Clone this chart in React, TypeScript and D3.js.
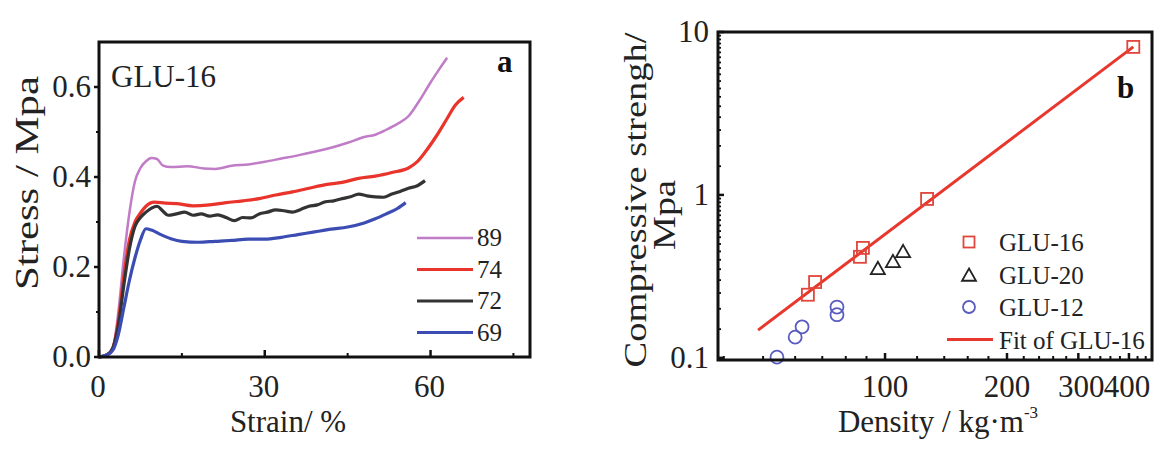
import React from "react";
import * as d3 from "d3";

const serif = "'Liberation Serif', 'Times New Roman', Times, serif";

// ---------- Panel a data: stress-strain curves (strain %, stress MPa) ----------
const curve89: [number, number][] = [
  [0, 0], [1.5, 0.005], [2.5, 0.02], [3.5, 0.1], [4.5, 0.22], [5.5, 0.32], [6.5, 0.39], [7.5, 0.42],
  [8.5, 0.435], [9.5, 0.442], [10.5, 0.44], [11.5, 0.426], [13, 0.422], [16, 0.424], [19, 0.419],
  [21, 0.418], [24, 0.425], [27, 0.428], [30, 0.434], [33, 0.441], [36, 0.448], [39, 0.456],
  [42, 0.465], [45, 0.476], [48, 0.489], [50, 0.494], [52, 0.505], [54, 0.518], [56, 0.535],
  [58, 0.57], [60, 0.61], [61.5, 0.638], [63, 0.665],
];
const curve74: [number, number][] = [
  [0, 0], [1.5, 0.005], [2.5, 0.02], [3.5, 0.08], [4.5, 0.18], [5.5, 0.26], [6.5, 0.3], [7.5, 0.32],
  [8.5, 0.335], [10, 0.344], [12, 0.342], [14, 0.341], [17, 0.336], [20, 0.338], [23, 0.343],
  [26, 0.347], [29, 0.352], [32, 0.36], [35, 0.367], [38, 0.375], [41, 0.383], [44, 0.388],
  [47, 0.397], [50, 0.402], [53, 0.41], [56, 0.42], [57.5, 0.433], [59, 0.455], [61, 0.49],
  [63, 0.53], [64.5, 0.56], [66, 0.577],
];
const curve72: [number, number][] = [
  [0, 0], [1.5, 0.005], [2.5, 0.02], [3.5, 0.07], [4.5, 0.16], [5.5, 0.24], [6.5, 0.29], [7.5, 0.31],
  [8.5, 0.322], [9.5, 0.331], [10.5, 0.335], [11.5, 0.325], [12.5, 0.315], [14, 0.318], [15.5, 0.322],
  [17, 0.315], [18.5, 0.318], [20, 0.313], [21.5, 0.316], [23, 0.31], [24.5, 0.303], [26, 0.31],
  [27.5, 0.309], [29, 0.318], [30.5, 0.322], [32, 0.327], [33.5, 0.325], [35, 0.322], [36.5, 0.328],
  [38, 0.335], [39.5, 0.338], [41, 0.345], [42.5, 0.347], [44, 0.352], [45.5, 0.356], [47, 0.362],
  [48.5, 0.358], [50, 0.356], [51.5, 0.355], [53, 0.362], [54.5, 0.368], [56, 0.375], [57.5, 0.38],
  [59, 0.392],
];
const curve69: [number, number][] = [
  [0, 0], [1.5, 0.005], [2.5, 0.015], [3.5, 0.05], [4.5, 0.11], [5.5, 0.17], [6.5, 0.22], [7.5, 0.26],
  [8.5, 0.285], [9.5, 0.282], [11, 0.273], [13, 0.263], [15, 0.257], [18, 0.255], [21, 0.257],
  [24, 0.259], [27, 0.262], [30, 0.262], [33, 0.266], [36, 0.272], [39, 0.278], [42, 0.284],
  [45, 0.289], [48, 0.298], [50, 0.307], [52, 0.318], [54, 0.33], [55.5, 0.343],
];
const legendA = ["89", "74", "72", "69"];
const colorsA = ["#c07cc6", "#e8342b", "#333333", "#3b4cb3"];
const widthsA = [2.5, 3.2, 3.2, 3.2];
const xTicksA = [0, 30, 60];
const xMinorA = [15, 45, 75];
const yTicksA = [0, 0.2, 0.4, 0.6];
const yMinorA = [0.1, 0.3, 0.5];

// ---------- Panel b data: density (kg/m3) vs compressive strength (MPa) ----------
const densityGLU16 = [64.5, 67.2, 86.7, 88.2, 127, 410];
const strengthGLU16 = [0.244, 0.292, 0.417, 0.473, 0.945, 8.1];
const densityGLU20 = [96, 104.6, 110.8];
const strengthGLU20 = [0.352, 0.388, 0.447];
const densityGLU12 = [54.1, 60, 62.4, 76.1, 76.1];
const strengthGLU12 = [0.101, 0.134, 0.155, 0.184, 0.205];
const fitLog10Intercept = -3.9955;
const fitSlope = 1.877;
const fitDensityRange = [48.6, 410];
const xTicksB = [100, 200, 300, 400];
const xTickLabelNudgeB = [0, 0, 3, -2];
const yTicksB = [0.1, 1, 10];
const legendB = ["GLU-16", "GLU-20", "GLU-12", "Fit of GLU-16"];

export default function App() {
  // Panel a scales
  const xa = d3.scaleLinear().domain([0, 78]).range([99, 530]);
  const ya = d3.scaleLinear().domain([0, 0.7]).range([357, 42]);
  const lineA = d3.line<[number, number]>().x((d) => xa(d[0])).y((d) => ya(d[1])).curve(d3.curveMonotoneX);
  const curvesA = [curve89, curve74, curve72, curve69];

  // Panel b scales
  const xb = d3.scaleLog().domain([38.7, 456]).range([718, 1152]);
  const yb = d3.scaleLog().domain([0.097, 10]).range([360, 32]);
  const fitPts: [number, number][] = fitDensityRange.map((d) => [d, Math.pow(10, fitLog10Intercept) * Math.pow(d, fitSlope)]);
  const lineB = d3.line<[number, number]>().x((d) => xb(d[0])).y((d) => yb(d[1]));

  const xMinorB: number[] = [];
  for (let v = 40; v < 100; v += 10) xMinorB.push(v);
  for (let v = 120; v <= 440; v += 20) if (v % 100 !== 0) xMinorB.push(v);
  const yMinorB: number[] = [];
  [0.1, 1].forEach((dec) => {
    for (let k = 1.5; k < 10; k += 0.5) yMinorB.push(k * dec);
  });

  const red = "#e8372c";
  const sq = 12;
  const triPath = (cx: number, cy: number) => {
    const s = 7;
    return `M${cx},${cy - s}L${cx + s},${cy + s * 0.75}L${cx - s},${cy + s * 0.75}Z`;
  };

  return (
    <svg width={1163} height={449} style={{ position: "absolute", left: 0, top: 0, background: "#fff" }} fontFamily={serif}>
      <rect x={0} y={0} width={1163} height={449} fill="#fff" />
      {/* ================= Panel a ================= */}
      <g>
        {curvesA.map((c, i) => (
          <path key={i} d={lineA(c) || ""} fill="none" stroke={colorsA[i]} strokeWidth={widthsA[i]} strokeLinejoin="round" />
        ))}
        <rect x={xa(0)} y={ya(0.7)} width={xa(78) - xa(0)} height={ya(0) - ya(0.7)} fill="none" stroke="#111" strokeWidth={3} />
        {xTicksA.map((t) => (
          <g key={t}>
            <line x1={xa(t)} x2={xa(t)} y1={ya(0)} y2={ya(0) - 7} stroke="#111" strokeWidth={2.5} />
            <text x={xa(t) - 1} y={397} fontSize={31} textAnchor="middle" fill="#222">{t}</text>
          </g>
        ))}
        {xMinorA.map((t) => (
          <line key={t} x1={xa(t)} x2={xa(t)} y1={ya(0)} y2={ya(0) - 4} stroke="#111" strokeWidth={2} />
        ))}
        {yTicksA.map((t) => (
          <g key={t}>
            <line x1={xa(0)} x2={xa(0) - 5} y1={ya(t)} y2={ya(t)} stroke="#111" strokeWidth={2.5} />
            <text x={91} y={ya(t) + 10} fontSize={31} textAnchor="end" fill="#222">{t.toFixed(1)}</text>
          </g>
        ))}
        {yMinorA.map((t) => (
          <line key={t} x1={xa(0)} x2={xa(0) - 3} y1={ya(t)} y2={ya(t)} stroke="#111" strokeWidth={2} />
        ))}
        <text x={288} y={432} fontSize={31} textAnchor="middle" fill="#222">Strain/ %</text>
        <text transform="translate(38,183) rotate(-90)" fontSize={33} textAnchor="middle" fill="#222"
          textLength={214} lengthAdjust="spacingAndGlyphs">Stress / Mpa</text>
        <text x={111} y={87} fontSize={31} fill="#222">GLU-16</text>
        <text x={497} y={72} fontSize={31} fontWeight="bold" fill="#111">a</text>
        {legendA.map((l, i) => (
          <g key={l}>
            <line x1={417} x2={473} y1={238 + i * 31.5} y2={238 + i * 31.5} stroke={colorsA[i]} strokeWidth={widthsA[i]} />
            <text x={477} y={238 + i * 31.5 + 8} fontSize={25} fill="#222">{l}</text>
          </g>
        ))}
      </g>

      {/* ================= Panel b ================= */}
      <g>
        <path d={lineB(fitPts) || ""} fill="none" stroke={red} strokeWidth={3} />
        {densityGLU16.map((d, i) => (
          <rect key={i} x={xb(d) - sq / 2} y={yb(strengthGLU16[i]) - sq / 2} width={sq} height={sq} fill="none" stroke="#e0463c" strokeWidth={1.8} />
        ))}
        {densityGLU20.map((d, i) => (
          <path key={i} d={triPath(xb(d), yb(strengthGLU20[i]))} fill="none" stroke="#222" strokeWidth={1.8} />
        ))}
        {densityGLU12.map((d, i) => (
          <circle key={i} cx={xb(d)} cy={yb(strengthGLU12[i])} r={6.5} fill="none" stroke="#5a5cc0" strokeWidth={1.8} />
        ))}
        <rect x={718} y={32} width={1152 - 718} height={360 - 32} fill="none" stroke="#111" strokeWidth={3} />
        {xTicksB.map((t, i) => (
          <g key={t}>
            <line x1={xb(t)} x2={xb(t)} y1={360} y2={353} stroke="#111" strokeWidth={2.5} />
            <text x={xb(t) + xTickLabelNudgeB[i]} y={397} fontSize={31} textAnchor="middle" fill="#222">{t}</text>
          </g>
        ))}
        {xMinorB.map((t) => (
          <line key={t} x1={xb(t)} x2={xb(t)} y1={360} y2={356} stroke="#111" strokeWidth={2} />
        ))}
        {yTicksB.map((t) => (
          <g key={t}>
            <line x1={718} x2={724} y1={yb(t)} y2={yb(t)} stroke="#111" strokeWidth={2.5} />
            <text x={709} y={yb(t) + 10} fontSize={31} textAnchor="end" fill="#222">{t}</text>
          </g>
        ))}
        {yMinorB.map((t, i) => (
          <line key={i} x1={718} x2={721} y1={yb(t)} y2={yb(t)} stroke="#111" strokeWidth={1.8} />
        ))}
        <text x={938} y={432} fontSize={31} textAnchor="middle" fill="#222">
          Density / kg·m<tspan dy={-14} fontSize={17}>-3</tspan>
        </text>
        <text transform="translate(646,200) rotate(-90)" fontSize={31} textAnchor="middle" fill="#222"
          textLength={335} lengthAdjust="spacingAndGlyphs">Compressive strengh/</text>
        <text transform="translate(675,215) rotate(-90)" fontSize={31} textAnchor="middle" fill="#222"
          textLength={70} lengthAdjust="spacingAndGlyphs">Mpa</text>
        <text x={1117} y={98} fontSize={31} fontWeight="bold" fill="#111">b</text>
        {/* legend */}
        {legendB.map((l, i) => {
          const y = 242 + i * 32.5;
          const mx = 969;
          return (
            <g key={l}>
              {i === 0 && <rect x={mx - 5.5} y={y - 5.5} width={11} height={11} fill="none" stroke="#e0463c" strokeWidth={1.8} />}
              {i === 1 && <path d={triPath(mx, y + 1)} fill="none" stroke="#222" strokeWidth={1.8} />}
              {i === 2 && <circle cx={mx} cy={y} r={6} fill="none" stroke="#5a5cc0" strokeWidth={1.8} />}
              {i === 3 && <line x1={947} x2={993} y1={y} y2={y} stroke={red} strokeWidth={3} />}
              <text x={999} y={y + 9} fontSize={25} fill="#222">{l}</text>
            </g>
          );
        })}
      </g>
    </svg>
  );
}
